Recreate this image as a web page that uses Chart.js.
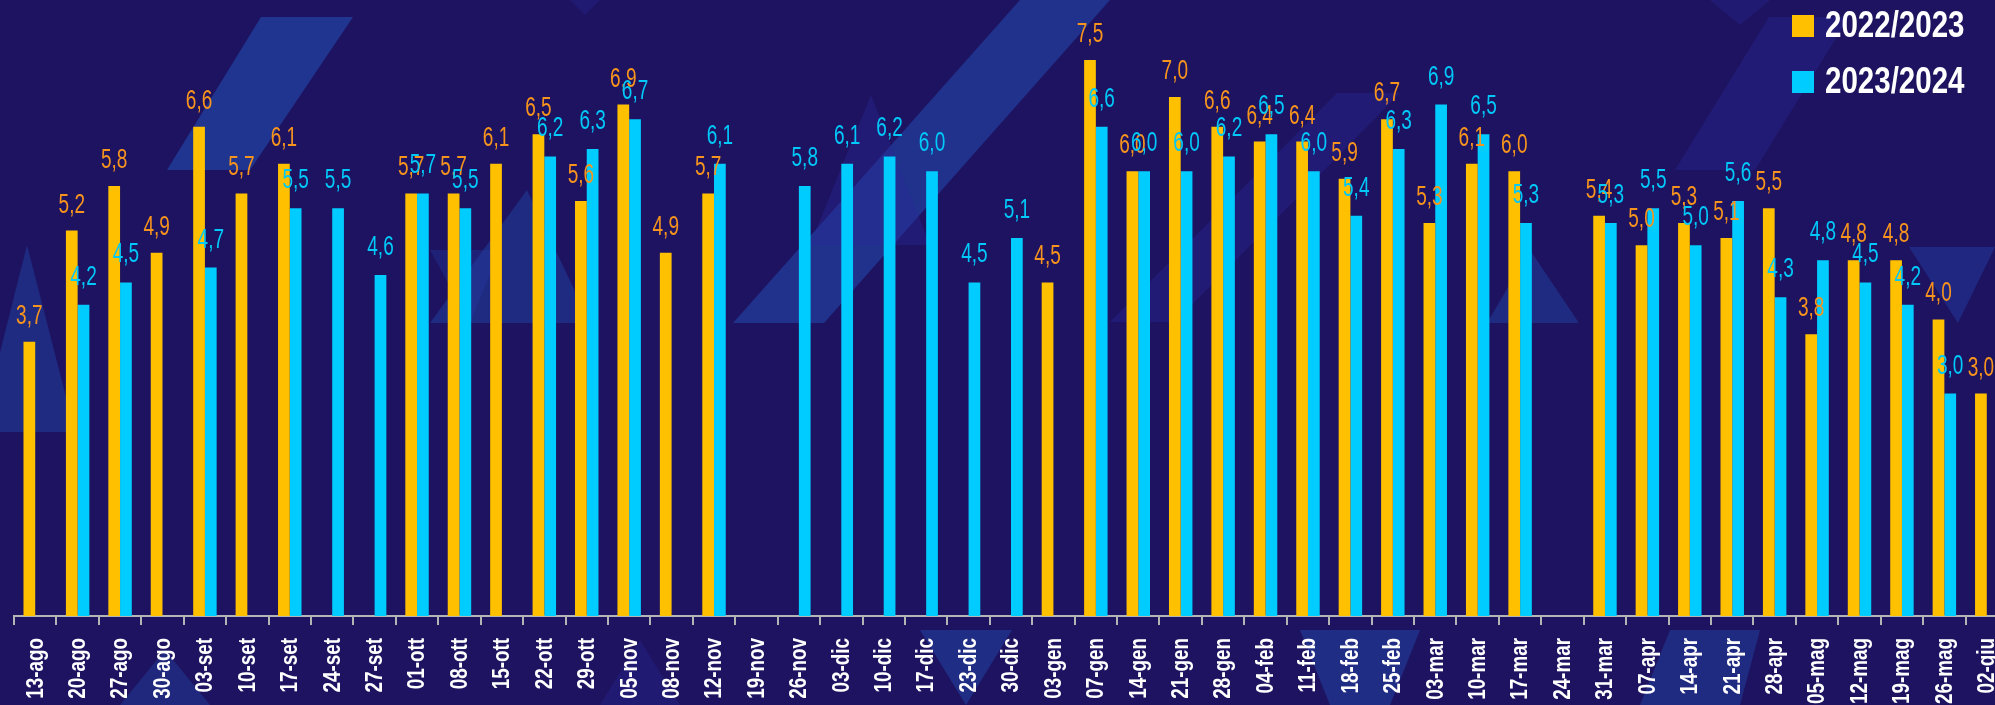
<!DOCTYPE html>
<html>
<head>
<meta charset="utf-8">
<script src="https://cdn.jsdelivr.net/npm/chart.js@4.4.1/dist/chart.umd.min.js"></script>
<style>
html,body{margin:0;padding:0;overflow:hidden;background:#1e1360;}
#wrap{position:relative;width:2008px;height:705px;}
</style>
</head>
<body>
<div id="wrap"><canvas id="c"></canvas></div>
<script>
const categories = ["13-ago","20-ago","27-ago","30-ago","03-set","10-set","17-set","24-set","27-set","01-ott","08-ott","15-ott","22-ott","29-ott","05-nov","08-nov","12-nov","19-nov","26-nov","03-dic","10-dic","17-dic","23-dic","30-dic","03-gen","07-gen","14-gen","21-gen","28-gen","04-feb","11-feb","18-feb","25-feb","03-mar","10-mar","17-mar","24-mar","31-mar","07-apr","14-apr","21-apr","28-apr","05-mag","12-mag","19-mag","26-mag","02-giu"];
const season2223 = [3.7,5.2,5.8,4.9,6.6,5.7,6.1,null,null,5.7,5.7,6.1,6.5,5.6,6.9,4.9,5.7,null,null,null,null,null,null,null,4.5,7.5,6.0,7.0,6.6,6.4,6.4,5.9,6.7,5.3,6.1,6.0,null,5.4,5.0,5.3,5.1,5.5,3.8,4.8,4.8,4.0,3.0];
const season2324 = [null,4.2,4.5,null,4.7,null,5.5,5.5,4.6,5.7,5.5,null,6.2,6.3,6.7,null,6.1,null,5.8,6.1,6.2,6.0,4.5,5.1,null,6.6,6.0,6.0,6.2,6.5,6.0,5.4,6.3,6.9,6.5,5.3,null,5.3,5.5,5.0,5.6,4.3,4.8,4.5,4.2,3.0,null];
const seriesLabels = ["2022/2023","2023/2024"];

const SANS = "'Liberation Sans',Arial,sans-serif";

function narrowText(ctx, text, x, y, sx, rot){
  ctx.save();
  ctx.translate(x, y);
  if (rot) ctx.rotate(rot);
  ctx.scale(sx, 1);
  ctx.fillText(text, 0, 0);
  ctx.restore();
}

const bgShapes = {
  id:'bgShapes',
  beforeDraw(chart){
    const ctx = chart.ctx;
    ctx.save();
    ctx.fillStyle = '#1e1360';
    ctx.fillRect(0,0,chart.width,chart.height);
    const polys = [
      {c:'rgba(33,72,170,0.65)', p:[[261,17],[353,17],[250,170],[167,170]]},
      {c:'rgba(33,72,170,0.45)', p:[[27,245],[75,432],[-20,432]]},
      {c:'rgba(33,72,170,0.45)', p:[[527,190],[590,323],[430,323]]},
      {c:'rgba(33,60,160,0.35)', p:[[430,250],[500,250],[470,323]]},
      {c:'rgba(33,72,170,0.60)', p:[[1020,0],[1110,0],[824,323],[733,323]]},
      {c:'rgba(40,40,150,0.40)', p:[[871,95],[930,245],[810,245]]},
      {c:'rgba(40,40,150,0.40)', p:[[1337,93],[1400,93],[1175,322],[1110,322]]},
      {c:'rgba(40,40,150,0.40)', p:[[1769,17],[1849,17],[1755,170],[1675,170]]},
      {c:'rgba(33,60,160,0.50)', p:[[1909,247],[1995,247],[1958,323]]},
      {c:'rgba(33,72,170,0.45)', p:[[1530,250],[1579,323],[1487,323]]},
      {c:'rgba(40,40,150,0.35)', p:[[570,0],[600,0],[585,15]]},
      {c:'rgba(40,40,150,0.35)', p:[[1710,0],[1770,0],[1740,25]]},
      {c:'rgba(33,72,170,0.50)', p:[[920,630],[1012,630],[966,705]]},
      {c:'rgba(33,72,170,0.50)', p:[[1300,630],[1420,630],[1390,705],[1330,705]]},
      {c:'rgba(33,72,170,0.45)', p:[[1670,630],[1760,630],[1740,705],[1640,705]]},
      {c:'rgba(33,72,170,0.40)', p:[[165,650],[210,705],[120,705]]},
      {c:'rgba(40,40,150,0.35)', p:[[640,640],[680,705],[600,705]]}
    ];
    polys.forEach(s=>{
      ctx.fillStyle = s.c;
      ctx.beginPath();
      s.p.forEach((pt,i)=> i? ctx.lineTo(pt[0],pt[1]) : ctx.moveTo(pt[0],pt[1]));
      ctx.closePath(); ctx.fill();
    });
    ctx.restore();
  }
};

const tickLabels = {
  id:'tickLabels',
  afterDraw(chart){
    const ctx = chart.ctx;
    const xs = chart.scales.x;
    ctx.save();
    ctx.fillStyle = '#ffffff';
    ctx.font = "bold 23px " + SANS;
    ctx.textAlign = 'right';
    ctx.textBaseline = 'middle';
    chart.data.labels.forEach((lab,i)=>{
      const x = xs.getPixelForTick(i);
      narrowText(ctx, lab, x + 1, xs.top + 22, 0.82, -Math.PI/2);
    });
    ctx.restore();
  }
};

const valueLabels = {
  id:'valueLabels',
  afterDatasetsDraw(chart){
    const ctx = chart.ctx;
    const colors = ['#f7941d','#00c8f8'];
    const gaps = [18,20];
    ctx.save();
    ctx.textAlign = 'center';
    ctx.textBaseline = 'alphabetic';
    ctx.font = "28px " + SANS;
    chart.data.datasets.forEach((ds,di)=>{
      const meta = chart.getDatasetMeta(di);
      meta.data.forEach((bar,i)=>{
        const v = ds.data[i];
        if (v === null || v === undefined) return;
        ctx.fillStyle = colors[di];
        narrowText(ctx, v.toFixed(1).replace('.',','), bar.x, bar.y - gaps[di], 0.68, 0);
      });
    });
    ctx.restore();
  }
};

const customLegend = {
  id:'customLegend',
  afterDraw(chart){
    const ctx = chart.ctx;
    ctx.save();
    ctx.font = "bold 36px " + SANS;
    ctx.textBaseline = 'alphabetic';
    ctx.textAlign = 'left';
    const rows = [{y:15},{y:71}];
    chart.data.datasets.forEach((ds,i)=>{
      const y = rows[i].y;
      ctx.fillStyle = ds.backgroundColor;
      ctx.fillRect(1792,y,22,22);
      ctx.fillStyle = '#ffffff';
      narrowText(ctx, ds.label, 1825, y + 22, 0.82, 0);
    });
    ctx.restore();
  }
};

new Chart(document.getElementById('c'), {
  type:'bar',
  data:{
    labels: categories,
    datasets:[
      {label:seriesLabels[0], data:season2223, backgroundColor:'#ffc000', borderWidth:0},
      {label:seriesLabels[1], data:season2324, backgroundColor:'#00ccff', borderWidth:0}
    ]
  },
  options:{
    responsive:true,
    maintainAspectRatio:false,
    animation:false,
    layout:{padding:{left:14,right:0,top:0,bottom:0}},
    datasets:{bar:{categoryPercentage:0.553,barPercentage:1.0}},
    plugins:{legend:{display:false},tooltip:{enabled:false}},
    scales:{
      y:{display:false,min:0,max:8.31},
      x:{
        afterFit(scale){ scale.height = 89; },
        border:{display:true,color:'#b4b4b4',width:2},
        grid:{display:true,drawOnChartArea:false,drawTicks:true,tickLength:9,color:'#b4b4b4',lineWidth:2},
        ticks:{display:false,autoSkip:false}
      }
    }
  },
  plugins:[bgShapes,valueLabels,tickLabels,customLegend]
});
</script>
</body>
</html>
